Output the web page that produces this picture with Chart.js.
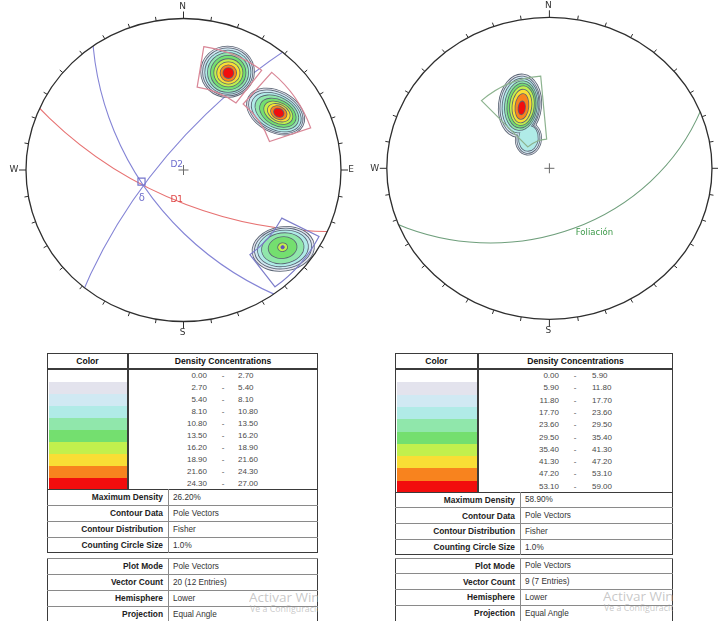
<!DOCTYPE html>
<html lang="es">
<head>
<meta charset="utf-8">
<title>Contour Plot</title>
<script src="https://cdn.jsdelivr.net/npm/chart.js@4.4.1/dist/chart.umd.min.js"></script>
<style>
  html, body { margin: 0; padding: 0; background: #fff; }
  body { width: 718px; height: 621px; position: relative; overflow: hidden;
         font-family: "Liberation Sans", Arial, sans-serif; }
  canvas { position: absolute; top: 0; }
  #netL { left: 0; }
  #netR { left: 360px; }
</style>
</head>
<body>
<canvas id="netL" width="360" height="340"></canvas>
<canvas id="netR" width="358" height="340"></canvas>
<script>
// ---------------- data ----------------
// Density interval limits (%) of the two contour legends
const densityLimitsL = [0.00, 2.70, 5.40, 8.10, 10.80, 13.50, 16.20, 18.90, 21.60, 24.30, 27.00];
const densityLimitsR = [0.00, 5.90, 11.80, 17.70, 23.60, 29.50, 35.40, 41.30, 47.20, 53.10, 59.00];

const infoLabels  = ['Maximum Density', 'Contour Data', 'Contour Distribution', 'Counting Circle Size'];
const infoValuesL = ['26.20%', 'Pole Vectors', 'Fisher', '1.0%'];
const infoValuesR = ['58.90%', 'Pole Vectors', 'Fisher', '1.0%'];
const plotLabels  = ['Plot Mode', 'Vector Count', 'Hemisphere', 'Projection'];
const plotValuesL = ['Pole Vectors', '20 (12 Entries)', 'Lower', 'Equal Angle'];
const plotValuesR = ['Pole Vectors', '9 (7 Entries)', 'Lower', 'Equal Angle'];

// Planes (great circles): dip direction / dip, degrees
const planeNamesL  = ['D1', 'D2', 'D3'];
const planeDipDirL = [204, 309, 235];
const planeDipL    = [67, 74, 60];
const planeNamesR  = ['Foliación'];
const planeDipDirR = [158];
const planeDipR    = [44];

// Pole clusters: density peak trend / plunge
const clusterTrendL  = [24, 58, 129];
const clusterPlungeL = [20, 19, 12];
const clusterTrendR  = [337];
const clusterPlungeR = [43];

// Contour rings of each cluster: [level, dx, dy, semi-axis a, semi-axis b] (net units, from the peak)
const ringsL1 = [
  [1, -0.005, 0.009, 0.168, 0.167], [2, -0.004, 0.008, 0.157, 0.156], [3, -0.003, 0.006, 0.144, 0.143],
  [4, -0.002, 0.004, 0.128, 0.129], [5, -0.001, 0.003, 0.110, 0.111], [6, 0.000, 0.002, 0.090, 0.090],
  [7, 0.000, 0.001, 0.071, 0.071], [8, 0.000, 0.000, 0.050, 0.052], [9, 0.000, 0.000, 0.032, 0.033]
];
const ringsL2 = [
  [1, -0.020, 0.008, 0.194, 0.135], [2, -0.019, 0.007, 0.182, 0.124], [3, -0.016, 0.004, 0.167, 0.112],
  [4, -0.012, 0.003, 0.146, 0.098], [5, -0.006, 0.000, 0.121, 0.082], [6, -0.003, 0.000, 0.096, 0.065],
  [7, 0.000, 0.000, 0.074, 0.052], [8, 0.000, 0.000, 0.053, 0.040], [9, 0.000, 0.000, 0.032, 0.026]
];
const ringsL3 = [
  [1, 0.004, -0.011, 0.196, 0.144], [2, 0.003, -0.009, 0.180, 0.131], [3, 0.002, -0.008, 0.160, 0.117],
  [4, 0.001, -0.007, 0.133, 0.099], [5, 0.000, -0.003, 0.089, 0.069], [6, 0.000, 0.000, 0.029, 0.026]
];
const ringsR1 = [
  [1, -0.011, 0.015, 0.130, 0.207], [2, -0.011, 0.015, 0.120, 0.193], [3, -0.008, 0.015, 0.110, 0.179],
  [4, -0.005, 0.015, 0.098, 0.162], [5, -0.002, 0.015, 0.086, 0.146], [6, 0.001, 0.015, 0.073, 0.129],
  [7, 0.001, 0.012, 0.058, 0.109], [8, 0.001, 0.009, 0.040, 0.083], [9, 0.000, 0.000, 0.020, 0.043],
  [1, 0.041, -0.205, 0.078, 0.105], [2, 0.041, -0.205, 0.068, 0.094], [3, 0.041, -0.202, 0.058, 0.083]
];

// Set windows: trend range and plunge range, degrees
const windowTrendMinL  = [9, 41, 117];
const windowTrendMaxL  = [37, 71, 143];
const windowPlungeMinL = [11, 9, 2];
const windowPlungeMaxL = [32, 30, 20];
const windowTrendMinR  = [317];
const windowTrendMaxR  = [355];
const windowPlungeMinR = [27];
const windowPlungeMaxR = [68];

// Intersection of the D sets and mean pole marks: trend / plunge
const intersectTrendL = [254];
const intersectPlungeL = [59];
const meanPoleTrendL = [129];
const meanPolePlungeL = [12];

// ---------------- styling ----------------
const levelColors = ['#ffffff', '#e3e3ed', '#d0e9f3', '#b0ebe7', '#90e7ab', '#74df6f',
                     '#c2f04d', '#f9de35', '#f8831e', '#f20d0d'];
const contourLine = '#5a6574';
const planeColorsL = ['#e77272', '#8585d6', '#8585d6'];
const planeColorsR = ['#6f9f7c'];
const windowColorsL = ['#d98797', '#d98797', '#7d7dca'];
const windowColorsR = ['#8db38f'];

const rad = d => d * Math.PI / 180;
// Equal-angle (stereographic) projection, lower hemisphere
function project(trend, plunge) {
  const r = Math.tan(rad(90 - plunge) / 2);
  return { x: r * Math.sin(rad(trend)), y: r * Math.cos(rad(trend)) };
}

function netGeometry(chart) {
  const x = chart.scales.x, y = chart.scales.y;
  const px = v => x.getPixelForValue(v), py = v => y.getPixelForValue(v);
  return { px, py, cx: px(0), cy: py(0), ux: px(1) - px(0), uy: py(0) - py(1) };
}

function makeNetPlugin(net) {
  return {
    id: 'stereonet',
    beforeDatasetsDraw(chart) {
      const ctx = chart.ctx, g = netGeometry(chart);
      ctx.save();
      // great circles, clipped to the primitive
      ctx.save();
      ctx.beginPath();
      ctx.ellipse(g.cx, g.cy, g.ux, g.uy, 0, 0, Math.PI * 2);
      ctx.clip();
      net.dipDir.forEach((dd, i) => {
        const d = rad(net.dip[i]), a = rad(dd + 180);
        const t = Math.tan(d), R = 1 / Math.cos(d);
        ctx.beginPath();
        ctx.ellipse(g.px(t * Math.sin(a)), g.py(t * Math.cos(a)), R * g.ux, R * g.uy, 0, 0, Math.PI * 2);
        ctx.strokeStyle = net.planeColors[i];
        ctx.lineWidth = 1.1;
        ctx.stroke();
      });
      ctx.restore();

      // density contours, level by level
      const clusters = net.clusterTrend.map((tr, i) => {
        const p = project(tr, net.clusterPlunge[i]);
        return { x: p.x, y: p.y, tilt: net.clusterTilt[i], rings: net.rings[i] };
      });
      for (let L = 1; L < levelColors.length; L++) {
        const list = [];
        clusters.forEach(c => c.rings.forEach(r => { if (r[0] === L) list.push([c, r]); }));
        if (!list.length) continue;
        const path = ([c, r]) => {
          ctx.beginPath();
          ctx.ellipse(g.px(c.x + r[1]), g.py(c.y + r[2]), r[3] * g.ux, r[4] * g.uy, rad(c.tilt), 0, Math.PI * 2);
        };
        ctx.strokeStyle = contourLine;
        ctx.lineWidth = 1.6;
        list.forEach(it => { path(it); ctx.stroke(); });
        ctx.fillStyle = levelColors[L];
        list.forEach(it => { path(it); ctx.fill(); });
      }

      // set windows
      net.winTMin.forEach((t1, i) => {
        const t2 = net.winTMax[i];
        const rOut = Math.tan(rad(90 - net.winPMin[i]) / 2);
        const rIn = Math.tan(rad(90 - net.winPMax[i]) / 2);
        ctx.beginPath();
        ctx.ellipse(g.cx, g.cy, rOut * g.ux, rOut * g.uy, 0, rad(t1 - 90), rad(t2 - 90));
        ctx.ellipse(g.cx, g.cy, rIn * g.ux, rIn * g.uy, 0, rad(t2 - 90), rad(t1 - 90), true);
        ctx.closePath();
        ctx.strokeStyle = net.windowColors[i];
        ctx.lineWidth = 1.2;
        ctx.stroke();
      });

      // primitive circle and 10 degree ticks
      ctx.beginPath();
      ctx.ellipse(g.cx, g.cy, g.ux, g.uy, 0, 0, Math.PI * 2);
      ctx.strokeStyle = '#2e2e2e';
      ctx.lineWidth = 1.3;
      ctx.stroke();
      ctx.lineWidth = 1;
      for (let az = 0; az < 360; az += 10) {
        const s = Math.sin(rad(az)), c = Math.cos(rad(az));
        const len = az % 90 === 0 ? 7 : 4;
        const x0 = g.cx + g.ux * s, y0 = g.cy - g.uy * c;
        ctx.beginPath();
        ctx.moveTo(x0, y0);
        ctx.lineTo(x0 + len * s, y0 - len * c);
        ctx.stroke();
      }
      ctx.fillStyle = '#333';
      ctx.font = '9px "DejaVu Sans", sans-serif';
      ctx.textAlign = 'center';
      ctx.textBaseline = 'middle';
      ctx.fillText('N', g.cx - 1, g.cy - g.uy - 12);
      ctx.fillText('S', g.cx - 1, g.cy + g.uy + 11);
      ctx.fillText('W', g.cx - g.ux - 12, g.cy);
      ctx.fillText('E', g.cx + g.ux + 10, g.cy);
      ctx.restore();
    },
    afterDatasetsDraw(chart) {
      const ctx = chart.ctx, g = netGeometry(chart);
      ctx.save();
      ctx.textBaseline = 'middle';
      net.labels.forEach(l => {
        ctx.font = l.font;
        ctx.fillStyle = l.color;
        ctx.textAlign = l.align;
        ctx.fillText(l.text, g.px(l.x), g.py(l.y));
      });
      ctx.restore();
    }
  };
}

function makeNet(canvasId, net, markers, padding) {
  return new Chart(document.getElementById(canvasId), {
    type: 'scatter',
    data: { datasets: markers },
    options: {
      responsive: false,
      animation: false,
      layout: { padding },
      scales: {
        x: { type: 'linear', min: -1, max: 1, display: false },
        y: { type: 'linear', min: -1, max: 1, display: false }
      },
      plugins: { legend: { display: false }, tooltip: { enabled: false } }
    },
    plugins: [makeNetPlugin(net)]
  });
}

const centreMark = {
  data: [{ x: 0, y: 0 }], pointStyle: 'cross', pointRadius: 5,
  borderColor: '#6a6a6a', borderWidth: 1, backgroundColor: 'transparent'
};

makeNet('netL', {
  dipDir: planeDipDirL, dip: planeDipL, planeColors: planeColorsL,
  clusterTrend: clusterTrendL, clusterPlunge: clusterPlungeL, clusterTilt: [0, 28, -8],
  rings: [ringsL1, ringsL2, ringsL3],
  winTMin: windowTrendMinL, winTMax: windowTrendMaxL, winPMin: windowPlungeMinL, winPMax: windowPlungeMaxL,
  windowColors: windowColorsL,
  labels: [
    { text: planeNamesL[1], x: -0.083, y: 0.033, color: '#6b6bcc', align: 'left', font: '9px "DejaVu Sans", sans-serif' },
    { text: planeNamesL[0], x: -0.083, y: -0.198, color: '#e04848', align: 'left', font: '9px "DejaVu Sans", sans-serif' },
    { text: 'δ', x: -0.265, y: -0.19, color: '#7070cc', align: 'center', font: '10px "DejaVu Sans", sans-serif' }
  ]
}, [
  centreMark,
  { data: intersectTrendL.map((t, i) => project(t, intersectPlungeL[i])), pointStyle: 'rect', pointRadius: 5,
    borderColor: '#7474cc', borderWidth: 1.2, backgroundColor: 'transparent' },
  { data: meanPoleTrendL.map((t, i) => project(t, meanPolePlungeL[i])), pointStyle: 'circle', pointRadius: 1.6,
    borderColor: '#6250bd', borderWidth: 1, backgroundColor: '#6250bd' }
], { left: 26, right: 19, top: 18.5, bottom: 18.5 });

makeNet('netR', {
  dipDir: planeDipDirR, dip: planeDipR, planeColors: planeColorsR,
  clusterTrend: clusterTrendR, clusterPlunge: clusterPlungeR, clusterTilt: [6],
  rings: [ringsR1],
  winTMin: windowTrendMinR, winTMax: windowTrendMaxR, winPMin: windowPlungeMinR, winPMax: windowPlungeMaxR,
  windowColors: windowColorsR,
  labels: [
    { text: planeNamesR[0], x: 0.162, y: -0.428, color: '#3d9a4a', align: 'left', font: '8.5px "DejaVu Sans", sans-serif' }
  ]
}, [centreMark], { left: 26.8, right: 3.8, top: 17.3, bottom: 20.7 });

// ---------------- legend tables ----------------
function el(css, text) {
  const d = document.createElement('div');
  d.style.cssText = 'position:absolute;box-sizing:border-box;' + css;
  if (text !== undefined) d.textContent = text;
  document.body.appendChild(d);
  return d;
}

function buildLegend(g, limits, infoValues, plotValues) {
  const rows = limits.length - 1;
  const denBottom = g.top + g.headH + rows * g.rowH;
  const box1H = denBottom + infoLabels.length * g.infoH - g.top;
  const dark = '#3b3b3b', grid = '#8a8a8a';
  // outer frames
  el(`left:${g.x}px;top:${g.top}px;width:${g.w}px;height:${box1H}px;border:1.5px solid ${dark};`);
  // header
  el(`left:${g.x}px;top:${g.top}px;width:${g.colorW}px;height:${g.headH}px;display:flex;align-items:center;justify-content:center;font-weight:bold;font-size:8.6px;color:#111;`, 'Color');
  el(`left:${g.x + g.colorW}px;top:${g.top}px;width:${g.w - g.colorW}px;height:${g.headH}px;display:flex;align-items:center;justify-content:center;font-weight:bold;font-size:8.6px;color:#111;`, 'Density Concentrations');
  el(`left:${g.x}px;top:${g.top + g.headH - 1}px;width:${g.w}px;height:2px;background:${dark};`);
  el(`left:${g.x + g.colorW - 1}px;top:${g.top}px;width:1.5px;height:${denBottom - g.top}px;background:${dark};`);
  // colour stripes and interval values
  for (let i = 0; i < rows; i++) {
    const y = g.top + g.headH + 1 + i * g.rowH;
    el(`left:${g.x + 1.5}px;top:${y}px;width:${g.colorW - 2.5}px;height:${g.rowH + 0.4}px;background:${levelColors[i]};`);
    const txt = 'font-size:8px;color:#4a4a4a;line-height:1;';
    el(`left:${g.x + g.numR - 40}px;top:${y + 2}px;width:40px;text-align:right;${txt}`, limits[i].toFixed(2));
    el(`left:${g.x + g.dash - 5}px;top:${y + 2}px;width:10px;text-align:center;${txt}`, '-');
    el(`left:${g.x + g.numL}px;top:${y + 2}px;width:40px;text-align:left;${txt}`, limits[i + 1].toFixed(2));
  }
  // info rows
  const infoRows = (top, labels, values, firstDark) => {
    labels.forEach((lab, i) => {
      const y = top + i * g.infoH;
      el(`left:${g.x}px;top:${y - 0.5}px;width:${g.w}px;height:1px;background:${i === 0 && firstDark ? dark : grid};`);
      el(`left:${g.x}px;top:${y}px;width:${g.labelW}px;height:${g.infoH}px;display:flex;align-items:center;justify-content:flex-end;padding-right:5px;font-weight:bold;font-size:8.4px;color:#222;white-space:nowrap;`, lab);
      el(`left:${g.x + g.labelW + 5}px;top:${y}px;width:${g.w - g.labelW - 6}px;height:${g.infoH}px;display:flex;align-items:center;font-size:8.2px;color:#333;white-space:nowrap;`, values[i]);
    });
    el(`left:${g.x + g.labelW - 0.5}px;top:${top}px;width:1px;height:${labels.length * g.infoH}px;background:${grid};`);
  };
  infoRows(denBottom, infoLabels, infoValues, true);
  const top2 = g.top + box1H + g.gap;
  el(`left:${g.x}px;top:${top2}px;width:${g.w}px;height:${plotLabels.length * g.infoH + 2}px;border:1.5px solid ${dark};`);
  infoRows(top2, plotLabels, plotValues, false);
  // desktop activation notice overlapping the table
  const clip = el(`left:${g.wmX}px;top:${g.wmY}px;width:${g.x + g.w - g.wmX}px;height:28px;overflow:hidden;color:rgba(175,175,175,0.7);white-space:nowrap;`);
  const a = document.createElement('div');
  a.textContent = 'Activar Windows';
  a.style.cssText = 'font-size:13.5px;line-height:14px;font-family:"Open Sans",sans-serif;';
  const b = document.createElement('div');
  b.textContent = 'Ve a Configuración para activar Windows.';
  b.style.cssText = 'font-size:8.8px;line-height:11px;margin-left:1px;font-family:"Open Sans",sans-serif;';
  clip.appendChild(a); clip.appendChild(b);
}

buildLegend({ x: 47, w: 271, colorW: 81, labelW: 121, top: 353, headH: 16, rowH: 12, infoH: 16, gap: 5,
              numR: 160, dash: 176, numL: 191, wmX: 249, wmY: 590 },
            densityLimitsL, infoValuesL, plotValuesL);
buildLegend({ x: 395, w: 278, colorW: 83, labelW: 125, top: 353, headH: 16, rowH: 12.3, infoH: 15.75, gap: 3,
              numR: 164, dash: 180, numL: 197, wmX: 603, wmY: 589 },
            densityLimitsR, infoValuesR, plotValuesR);
</script>
</body>
</html>
